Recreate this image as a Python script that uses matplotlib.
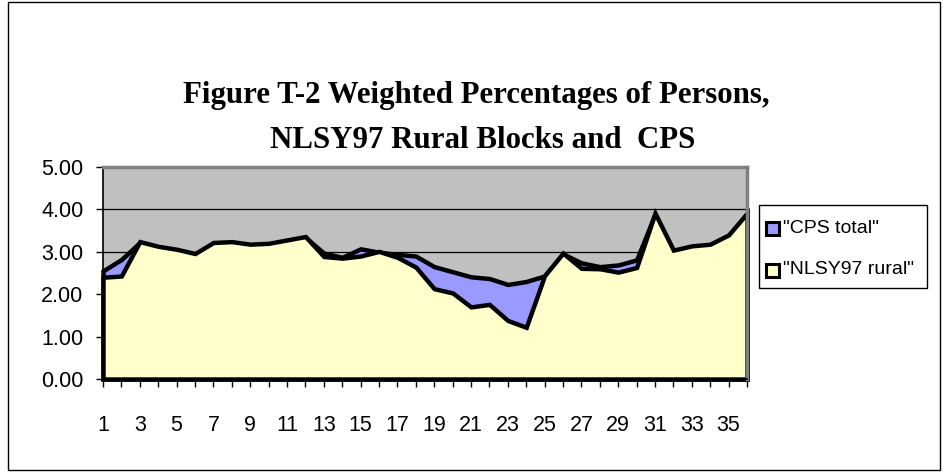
import matplotlib
matplotlib.use('Agg')
import matplotlib.pyplot as plt
from matplotlib.patches import Rectangle

# ---- data ----
categories = list(range(1, 37))
cps_total = [2.55, 2.82, 3.22, 3.10, 3.04, 2.94, 3.20, 3.22, 3.16, 3.18, 3.26, 3.34,
             2.97, 2.87, 3.07, 2.99, 2.94, 2.90, 2.65, 2.53, 2.41, 2.37, 2.23, 2.30,
             2.43, 2.95, 2.74, 2.65, 2.69, 2.81, 3.89, 3.02, 3.12, 3.16, 3.38, 3.89]
nlsy97_rural = [2.40, 2.43, 3.24, 3.13, 3.06, 2.96, 3.22, 3.24, 3.18, 3.20, 3.28, 3.36,
                2.89, 2.85, 2.90, 3.01, 2.87, 2.64, 2.13, 2.03, 1.70, 1.76, 1.38, 1.22,
                2.44, 2.97, 2.61, 2.60, 2.52, 2.63, 3.91, 3.04, 3.14, 3.18, 3.40, 3.91]
y_ticks = [0, 1, 2, 3, 4, 5]
x_tick_labels = [str(c) if c % 2 == 1 else '' for c in categories]
series_names = ['"CPS total"', '"NLSY97 rural"']
series_colors = ['#9999FF', '#FFFFCC']
title_lines = ['Figure T-2 Weighted Percentages of Persons,', 'NLSY97 Rural Blocks and  CPS']

W, H = 948, 476
fig = plt.figure(figsize=(W / 100, H / 100), dpi=100)
fig.patch.set_facecolor('white')


def fx(px):
    return px / W


def fy(py):
    return 1 - py / H


# outer chart border
fig.patches.append(Rectangle((fx(8), fy(470)), fx(940) - fx(8), fy(2) - fy(470),
                             transform=fig.transFigure, fill=False,
                             edgecolor='black', linewidth=1))

ax = fig.add_axes([fx(103), fy(379), fx(747) - fx(103), fy(167) - fy(379)])
ax.set_facecolor('#C0C0C0')
ax.set_xlim(1, 36)
ax.set_ylim(0, 5)

for v in y_ticks[1:-1]:
    ax.axhline(v, color='black', linewidth=0.9, zorder=1)

for vals, col, z in [(cps_total, series_colors[0], 2), (nlsy97_rural, series_colors[1], 3)]:
    pc = ax.fill_between(categories, 0, vals, facecolor=col, edgecolor='black',
                         linewidth=3.2, zorder=z)
    pc.set_joinstyle('miter')
    pc.set_clip_on(False)

for s in ['left', 'bottom']:
    ax.spines[s].set_color('black')
    ax.spines[s].set_linewidth(1.2)
    ax.spines[s].set_zorder(5)
for s in ['top', 'right']:
    ax.spines[s].set_color('#808080')
    ax.spines[s].set_linewidth(2.5)
    ax.spines[s].set_zorder(5)

tick_font = dict(family='Liberation Sans', size=15.5)
ax.set_yticks(y_ticks)
ax.set_yticklabels([f'{v:.2f}' for v in y_ticks], fontdict=tick_font)
ax.set_xticks(categories)
ax.set_xticklabels(x_tick_labels, fontdict=tick_font)
ax.tick_params(axis='y', direction='out', length=5, width=1, pad=9, colors='black')
ax.tick_params(axis='x', direction='out', length=6, width=1, pad=20, colors='black')

# title
fig.canvas.draw()
r = fig.canvas.get_renderer()
t1 = fig.text(fx(476), fy(95), title_lines[0], ha='center', va='center',
              family='Liberation Serif', weight='bold', fontsize=20)
t2 = fig.text(fx(483), fy(140), title_lines[1], ha='center', va='center',
              family='Liberation Serif', weight='bold', fontsize=20)
w1 = t1.get_window_extent(r).width
fs = 20 * 587 / w1
t1.set_fontsize(fs)
t2.set_fontsize(fs)

# legend
fig.patches.append(Rectangle((fx(759), fy(288)), fx(927) - fx(759), fy(205) - fy(288),
                             transform=fig.transFigure, facecolor='white',
                             edgecolor='black', linewidth=1))
for name, col, yc in zip(series_names, series_colors, [228, 270]):
    fig.patches.append(Rectangle((fx(766), fy(yc + 6.5)), fx(779) - fx(766), 13 / H,
                                 transform=fig.transFigure, facecolor=col,
                                 edgecolor='black', linewidth=2.2))
    fig.text(fx(783), fy(yc), name, ha='left', va='center',
             family='Liberation Sans', fontsize=14)

fig.savefig('out.png', dpi=100)
